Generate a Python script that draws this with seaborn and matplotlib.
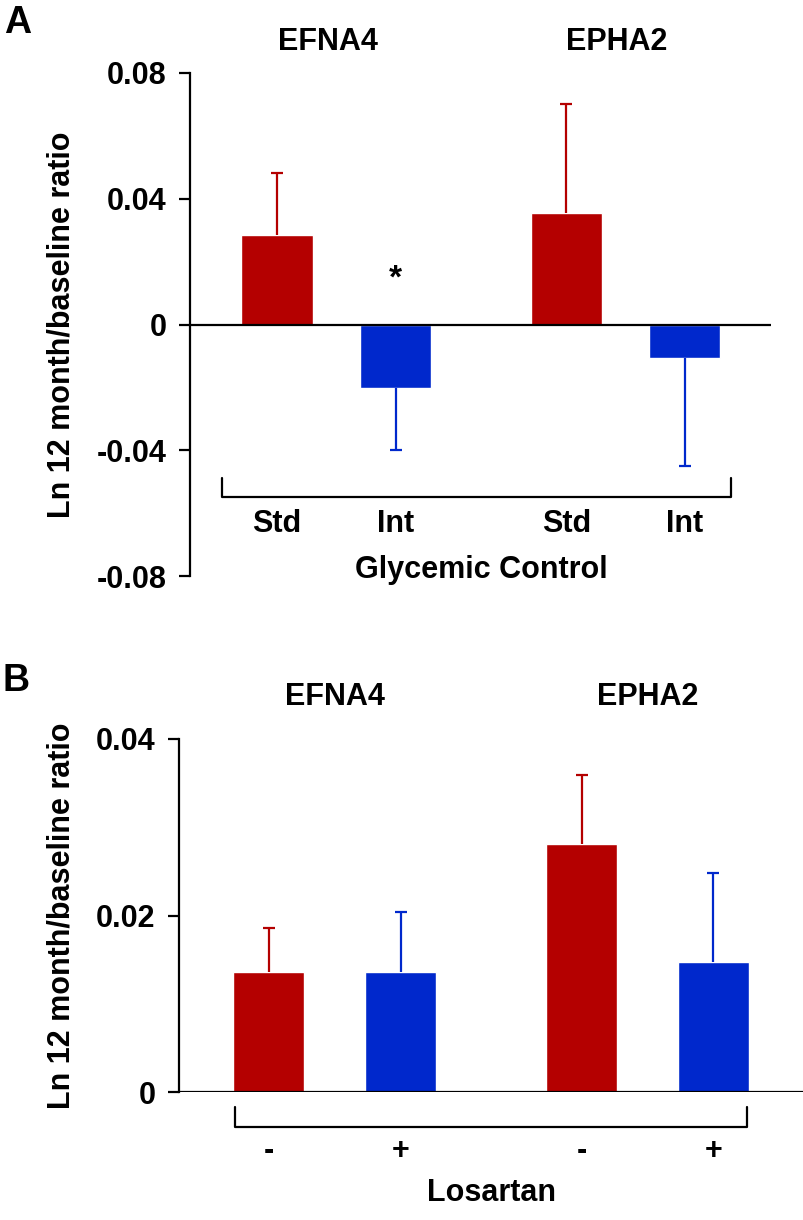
import pandas as pd
import seaborn as sns
import matplotlib.pyplot as plt

# datos
genes = ["EFNA4", "EPHA2"]
glycemic_groups = ["Std", "Int"]
glycemic_mean = [0.0284, -0.0201, 0.0354, -0.0108]   # EFNA4 Std, EFNA4 Int, EPHA2 Std, EPHA2 Int
glycemic_err = [0.0197, 0.0199, 0.0347, 0.0341]
losartan_groups = ["-", "+"]
losartan_mean = [0.0136, 0.0136, 0.0281, 0.0147]
losartan_err = [0.0050, 0.0068, 0.0078, 0.0101]
yticks_a = [-0.08, -0.04, 0, 0.04, 0.08]
ytick_labels_a = ["-0.08", "-0.04", "0", "0.04", "0.08"]
yticks_b = [0, 0.02, 0.04]
ytick_labels_b = ["0", "0.02", "0.04"]

RED = "#B40000"
BLUE = "#0028CC"

sns.set_theme(style="white")
plt.rcParams["font.family"] = ["Liberation Sans", "DejaVu Sans"]
plt.rcParams["font.weight"] = "bold"
plt.rcParams["text.color"] = "black"
plt.rcParams["axes.labelcolor"] = "black"

W, H = 804, 1220
fig = plt.figure(figsize=(W / 100, H / 100), dpi=100)


def px_axes(left, top, right, bottom):
    return fig.add_axes([left / W, 1 - bottom / H, (right - left) / W, (bottom - top) / H])


def make_df(means, errs, groups):
    rows = []
    i = 0
    for g in genes:
        for grp in groups:
            rows.append({"gene": g, "group": grp, "value": means[i], "err": errs[i]})
            i += 1
    return pd.DataFrame(rows)


def draw_panel(ax, df, groups, width, gap):
    sns.barplot(data=df, x="gene", y="value", hue="group", hue_order=groups,
                order=genes, palette=[RED, BLUE], saturation=1, width=width, gap=gap,
                legend=False, ax=ax)
    centers = {}
    for container, grp, col in zip(ax.containers, groups, [RED, BLUE]):
        for bar, gene in zip(container, genes):
            row = df[(df.gene == gene) & (df.group == grp)].iloc[0]
            xc = bar.get_x() + bar.get_width() / 2
            centers[(gene, grp)] = xc
            # barra de error de un solo lado (hacia fuera de la barra)
            end = row.value + row.err if row.value >= 0 else row.value - row.err
            ax.vlines(xc, row.value, end, color=col, lw=1.6)
            ax.plot([xc], [end], marker="_", markersize=9, mew=1.6, color=col)
    ax.axhline(0, color="black", lw=1.6, zorder=3)
    for s in ["top", "right", "bottom"]:
        ax.spines[s].set_visible(False)
    ax.spines["left"].set_linewidth(1.6)
    ax.spines["left"].set_color("black")
    ax.set_xticks([])
    ax.set_xlabel("")
    ax.set_ylabel("")
    ax.tick_params(axis="y", direction="out", length=8, width=1.6, pad=9,
                   labelsize=22, left=True, colors="black")
    return centers


def bracket(ax, x0, x1, ybot, ytop):
    ax.plot([x0, x0, x1, x1], [ytop, ybot, ybot, ytop], color="black", lw=1.6,
            clip_on=False)


# Panel A
axA = px_axes(190, 73, 771, 576)
dfA = make_df(glycemic_mean, glycemic_err, glycemic_groups)
cA = draw_panel(axA, dfA, glycemic_groups, 0.82, 0.4)
axA.set_xlim(-0.506, 1.503)
axA.set_ylim(-0.08, 0.08)
axA.set_yticks(yticks_a)
axA.set_yticklabels(ytick_labels_a, fontweight="bold")
bracket(axA, -0.395, 1.365, -0.055, -0.0487)
for (gene, grp), xc in cA.items():
    axA.text(xc, -0.0636, grp, ha="center", va="center", fontsize=22, fontweight="bold")
axA.text(0.5, -0.078, "Glycemic Control", ha="center", va="center", fontsize=22,
         fontweight="bold")
for i, g in enumerate(genes):
    axA.text(i - 0.03, 0.090, g, ha="center", va="center", fontsize=22, fontweight="bold")
axA.text(cA[("EFNA4", "Int")], 0.0145, "*", ha="center", va="center", fontsize=24,
         fontweight="bold")

# Panel B
axB = px_axes(179, 739, 804, 1092)
dfB = make_df(losartan_mean, losartan_err, losartan_groups)
cB = draw_panel(axB, dfB, losartan_groups, 0.843, 0.46)
axB.set_xlim(-0.497, 1.5)
axB.set_ylim(0, 0.04)
axB.set_yticks(yticks_b)
axB.set_yticklabels(ytick_labels_b, fontweight="bold")
bracket(axB, -0.318, 1.318, -0.0040, -0.0017)
for (gene, grp), xc in cB.items():
    axB.text(xc, -0.0067, grp, ha="center", va="center", fontsize=22, fontweight="bold")
axB.text(0.5, -0.0114, "Losartan", ha="center", va="center", fontsize=22,
         fontweight="bold")
for i, g in enumerate(genes):
    axB.text(i, 0.0448, g, ha="center", va="center", fontsize=22, fontweight="bold")

ylab = "Ln 12 month/baseline ratio"
fig.text(62 / W, 1 - 325 / H, ylab, rotation=90, ha="center", va="center",
         fontsize=22, fontweight="bold")
fig.text(62 / W, 1 - 916 / H, ylab, rotation=90, ha="center", va="center",
         fontsize=22, fontweight="bold")
fig.text(18 / W, 1 - 23 / H, "A", ha="center", va="center", fontsize=27, fontweight="bold")
fig.text(16 / W, 1 - 681 / H, "B", ha="center", va="center", fontsize=27, fontweight="bold")

fig.savefig("out.png", dpi=100, facecolor="white")
